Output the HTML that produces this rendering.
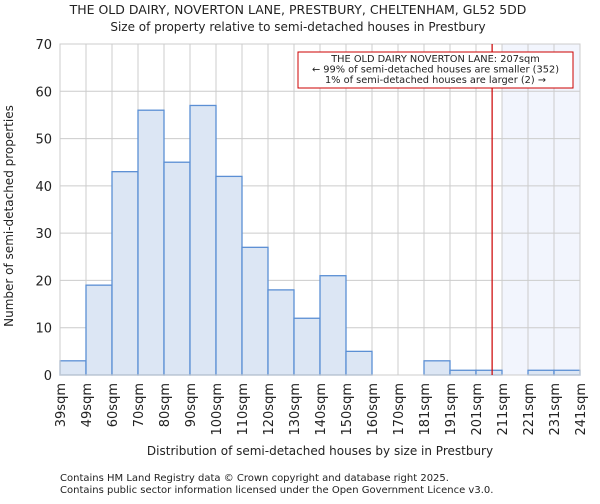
<!DOCTYPE html>
<html><head><meta charset="utf-8"><style>
body{margin:0;background:#fff;font-family:"DejaVu Sans","Liberation Sans",sans-serif}
svg text{font-family:"DejaVu Sans","Liberation Sans",sans-serif;fill:#222}
</style></head><body>
<svg id="c" width="600" height="500">
<text x="298" y="14" font-size="12.5" text-anchor="middle">THE OLD DAIRY, NOVERTON LANE, PRESTBURY, CHELTENHAM, GL52 5DD</text>
<text x="298" y="31" font-size="12" text-anchor="middle">Size of property relative to semi-detached houses in Prestbury</text>
<text x="320" y="455" font-size="12" text-anchor="middle">Distribution of semi-detached houses by size in Prestbury</text>
<text transform="translate(13,216) rotate(-90)" font-size="12" text-anchor="middle">Number of semi-detached properties</text>
<text x="60" y="481" font-size="10">Contains HM Land Registry data © Crown copyright and database right 2025.</text>
<text x="60" y="493" font-size="10">Contains public sector information licensed under the Open Government Licence v3.0.</text>
</svg>
<script>
const edgeLabels=["39sqm","49sqm","60sqm","70sqm","80sqm","90sqm","100sqm","110sqm","120sqm","130sqm","140sqm","150sqm","160sqm","170sqm","181sqm","191sqm","201sqm","211sqm","221sqm","231sqm","241sqm"];
const counts=[3,19,43,56,45,57,42,27,18,12,21,5,0,0,3,1,1,0,1,1];
const yTicks=[0,10,20,30,40,50,60,70];
const markerBin=16.62;
const shadeStartBin=17;
const NS="http://www.w3.org/2000/svg",svg=document.getElementById('c');
const X0=60,X1=580,Y0=375,Y1=44,YMAX=70;
const xs=i=>X0+(X1-X0)*i/counts.length;
const ys=v=>Y0-(Y0-Y1)*v/YMAX;
function mk(t,a){const e=document.createElementNS(NS,t);for(const k in a)e.setAttribute(k,a[k]);svg.appendChild(e);return e;}
let e=mk('rect',{x:xs(shadeStartBin),y:Y1,width:X1-xs(shadeStartBin),height:Y0-Y1,fill:'#f2f5fd'});


yTicks.forEach(v=>{const l=mk('line',{x1:X0,x2:X1,y1:ys(v),y2:ys(v),stroke:'#ccc'});


const t=mk('text',{x:X0-8,y:ys(v)+5,'font-size':13,'text-anchor':'end'});t.textContent=v;

});
edgeLabels.forEach((s,i)=>{const l=mk('line',{x1:xs(i),x2:xs(i),y1:Y1,y2:Y0,stroke:'#ccc'});


const t=mk('text',{transform:`translate(${xs(i)+5},${Y0+8}) rotate(-90)`,'font-size':13,'text-anchor':'end'});t.textContent=s;

});
counts.forEach((v,i)=>{if(v<=0)return;const r=mk('rect',{x:xs(i),y:ys(v),width:xs(i+1)-xs(i),height:Y0-ys(v),fill:'#dce6f4',stroke:'#5b8fd4','stroke-width':1.3});

});
e=mk('rect',{x:X0,y:Y1,width:X1-X0,height:Y0-Y1,fill:'none',stroke:'#ccc'});


e=mk('line',{x1:xs(markerBin),x2:xs(markerBin),y1:Y1,y2:Y0,stroke:'#cc0000','stroke-width':1.2});


e=mk('rect',{x:298,y:52,width:275,height:36,fill:'#fff',stroke:'#cc0000'});


["THE OLD DAIRY NOVERTON LANE: 207sqm","← 99% of semi-detached houses are smaller (352)","1% of semi-detached houses are larger (2) →"].forEach((s,i)=>{const t=mk('text',{x:435.5,y:62+i*10.5,'font-size':9.8,'text-anchor':'middle'});t.textContent=s;

});
</script>
</body></html>
